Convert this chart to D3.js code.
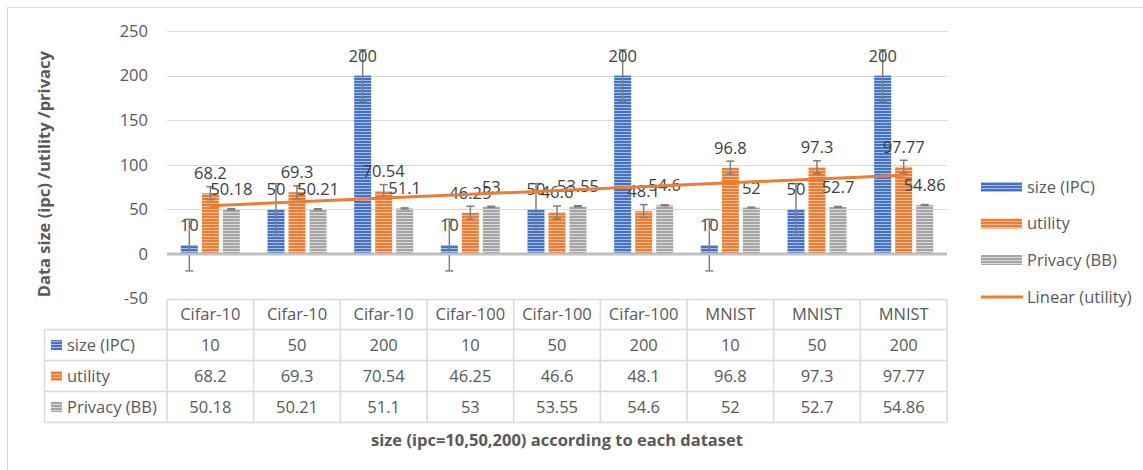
<!DOCTYPE html>
<html>
<head>
<meta charset="utf-8">
<script src="https://cdn.jsdelivr.net/npm/d3@7"></script>
<style>
  html, body { margin: 0; padding: 0; background: #ffffff; }
  svg { display: block; font-family: "Open Sans", "Noto Sans", sans-serif; }
</style>
</head>
<body>
<svg id="chart" width="1143" height="470"></svg>
<script>
// ---------- data ----------
const categories = ["Cifar-10", "Cifar-10", "Cifar-10", "Cifar-100", "Cifar-100", "Cifar-100", "MNIST", "MNIST", "MNIST"];
const sizeIPC   = [10, 50, 200, 10, 50, 200, 10, 50, 200];
const utility   = [68.2, 69.3, 70.54, 46.25, 46.6, 48.1, 96.8, 97.3, 97.77];
const privacyBB = [50.18, 50.21, 51.1, 53, 53.55, 54.6, 52, 52.7, 54.86];
const seriesNames = ["size (IPC)", "utility", "Privacy (BB)"];
const errorAmounts = [28.9, 7.28, 0.57];   // standard-error bars
const yTicks = [-50, 0, 50, 100, 150, 200, 250];
const yTickLabels = ["-50", "0", "50", "100", "150", "200", "250"];
const yTitle = "Data size (ipc) /utility /privacy";
const xTitle = "size (ipc=10,50,200) according to each dataset";
const trendName = "Linear (utility)";

// ---------- setup ----------
const seriesValues = [sizeIPC, utility, privacyBB];
const colors = [
  { base: "#4472C4", light: "#A9BEE6" },
  { base: "#ED7D31", light: "#F6BE98" },
  { base: "#A5A5A5", light: "#D9D9D9" }
];
const svg = d3.select("#chart");
const plot = { left: 167, right: 947, top: 31, bottom: 298.6 };
const FS = 16.5;

const x0 = d3.scaleBand().domain(d3.range(categories.length)).range([plot.left, plot.right]).padding(0);
const y = d3.scaleLinear().domain([-50, 250]).range([plot.bottom, plot.top]);
const x1 = d3.scaleBand().domain(d3.range(seriesNames.length)).range([-29.5, 29.5]).paddingInner(4 / 21).paddingOuter(0);

// patterns
const defs = svg.append("defs");
colors.forEach((c, i) => {
  const p = defs.append("pattern").attr("id", "pat" + i)
    .attr("patternUnits", "userSpaceOnUse").attr("width", 6).attr("height", 3);
  p.append("rect").attr("width", 6).attr("height", 3).attr("fill", c.base);
  p.append("rect").attr("y", 2).attr("width", 6).attr("height", 1).attr("fill", c.light);
});

// outer border
svg.append("rect").attr("x", 7.5).attr("y", 7.5).attr("width", 1160).attr("height", 480)
  .attr("fill", "none").attr("stroke", "#D9D9D9").attr("stroke-width", 1);

// gridlines
const yAxisG = svg.append("g").attr("class", "y-grid");
yAxisG.selectAll("line").data(yTicks.filter(t => t > 0)).join("line")
  .attr("x1", plot.left).attr("x2", plot.right)
  .attr("y1", d => Math.round(y(d)) + 0.5).attr("y2", d => Math.round(y(d)) + 0.5)
  .attr("stroke", "#D9D9D9").attr("stroke-width", 1);

// y tick labels via d3 axis
const yAxis = d3.axisLeft(y).tickValues(yTicks).tickSize(0).tickPadding(0)
  .tickFormat((d, i) => yTickLabels[i]);
const ya = svg.append("g").attr("transform", `translate(148,0)`).call(yAxis);
ya.select(".domain").remove();
ya.selectAll("text").attr("font-size", FS).attr("fill", "#595959").attr("font-family", "'Open Sans', sans-serif");

// bars
const groups = svg.append("g").selectAll("g").data(d3.range(categories.length)).join("g")
  .attr("transform", i => `translate(${x0(i) + x0.bandwidth() / 2},0)`);

groups.selectAll("rect.bar").data(i => seriesValues.map((s, k) => ({ k, v: s[i] }))).join("rect")
  .attr("class", "bar")
  .attr("x", d => x1(d.k))
  .attr("width", x1.bandwidth())
  .attr("y", d => y(Math.max(0, d.v)))
  .attr("height", d => Math.abs(y(d.v) - y(0)))
  .attr("fill", d => `url(#pat${d.k})`);

// zero axis line
svg.append("line").attr("x1", plot.left).attr("x2", plot.right)
  .attr("y1", y(0)).attr("y2", y(0)).attr("stroke", "#BFBFBF").attr("stroke-width", 3);

// error bars
const eb = groups.selectAll("g.err").data(i => seriesValues.map((s, k) => ({ k, v: s[i] }))).join("g").attr("class", "err")
  .attr("transform", d => `translate(${x1(d.k) + x1.bandwidth() / 2},0)`);
eb.append("line").attr("x1", 0).attr("x2", 0)
  .attr("y1", d => y(d.v - errorAmounts[d.k])).attr("y2", d => y(d.v + errorAmounts[d.k]))
  .attr("stroke", "#7F7F7F").attr("stroke-width", 1.5);
eb.selectAll("line.cap").data(d => [d.v - errorAmounts[d.k], d.v + errorAmounts[d.k]]).join("line").attr("class", "cap")
  .attr("x1", -4).attr("x2", 4).attr("y1", v => y(v)).attr("y2", v => y(v))
  .attr("stroke", "#7F7F7F").attr("stroke-width", 1.5);

// linear trendline of utility (least squares, x = 1..n)
const n = utility.length;
const xs = d3.range(1, n + 1);
const mx = d3.mean(xs), my = d3.mean(utility);
const slope = d3.sum(xs, (xv, i) => (xv - mx) * (utility[i] - my)) / d3.sum(xs, xv => (xv - mx) * (xv - mx));
const icpt = my - slope * mx;
const trendPts = [0, n - 1].map(i => [x0(i) + x0.bandwidth() / 2, y(icpt + slope * (i + 1))]);
svg.append("path").attr("d", d3.line()(trendPts))
  .attr("stroke", "#ED7D31").attr("stroke-width", 3).attr("fill", "none");

// data labels
groups.selectAll("text.lbl").data(i => seriesValues.map((s, k) => ({ k, v: s[i] }))).join("text").attr("class", "lbl")
  .attr("x", d => x1(d.k) + x1.bandwidth() / 2)
  .attr("y", d => y(d.v) - 14)
  .attr("text-anchor", "middle").attr("font-size", FS).attr("fill", "#404040")
  .text(d => String(d.v));

// legend
const legend = svg.append("g").attr("transform", "translate(981,0)");
const legY = [187, 223.5, 260];
seriesNames.forEach((name, k) => {
  legend.append("rect").attr("x", 0).attr("y", legY[k] - 5).attr("width", 41).attr("height", 10)
    .attr("fill", `url(#pat${k})`);
  legend.append("text").attr("x", 46).attr("y", legY[k]).attr("dy", "0.35em")
    .attr("font-size", FS).attr("fill", "#595959").text(name);
});
legend.append("line").attr("x1", 0).attr("x2", 42).attr("y1", 297).attr("y2", 297)
  .attr("stroke", "#ED7D31").attr("stroke-width", 3);
legend.append("text").attr("x", 46).attr("y", 297).attr("dy", "0.35em")
  .attr("font-size", FS).attr("fill", "#595959").text(trendName);

// data table
const tbl = svg.append("g");
const rowY = [299.5, 329.5, 360.5, 391.5, 422.5];
const labelLeft = 44.5;
const gridC = "#D9D9D9";
tbl.append("line").attr("x1", plot.left).attr("x2", plot.right).attr("y1", rowY[0]).attr("y2", rowY[0])
  .attr("stroke", gridC).attr("stroke-width", 1.5);
rowY.slice(1).forEach(yy => tbl.append("line").attr("x1", labelLeft).attr("x2", plot.right)
  .attr("y1", yy).attr("y2", yy).attr("stroke", gridC).attr("stroke-width", 1.5));
d3.range(categories.length + 1).forEach(i => {
  const xx = i < categories.length ? x0(i) : plot.right;
  tbl.append("line").attr("x1", xx).attr("x2", xx).attr("y1", rowY[0]).attr("y2", rowY[4])
    .attr("stroke", gridC).attr("stroke-width", 1.5);
});
tbl.append("line").attr("x1", labelLeft).attr("x2", labelLeft).attr("y1", rowY[1]).attr("y2", rowY[4])
  .attr("stroke", gridC).attr("stroke-width", 1.5);
categories.forEach((c, i) => {
  tbl.append("text").attr("x", x0(i) + x0.bandwidth() / 2).attr("y", (rowY[0] + rowY[1]) / 2).attr("dy", "0.35em")
    .attr("text-anchor", "middle").attr("font-size", FS).attr("fill", "#595959").text(c);
});
seriesNames.forEach((name, k) => {
  const cy = (rowY[k + 1] + rowY[k + 2]) / 2;
  tbl.append("rect").attr("x", 51).attr("y", cy - 5).attr("width", 11).attr("height", 10).attr("fill", `url(#pat${k})`);
  tbl.append("text").attr("x", 67).attr("y", cy).attr("dy", "0.35em")
    .attr("font-size", FS).attr("fill", "#595959").text(name);
  seriesValues[k].forEach((v, i) => {
    tbl.append("text").attr("x", x0(i) + x0.bandwidth() / 2).attr("y", cy).attr("dy", "0.35em")
      .attr("text-anchor", "middle").attr("font-size", FS).attr("fill", "#595959").text(String(v));
  });
});

// axis titles
svg.append("text").attr("x", (plot.left + plot.right) / 2).attr("y", 440).attr("dy", "0.35em")
  .attr("text-anchor", "middle").attr("font-size", FS).attr("font-weight", "bold").attr("fill", "#595959").text(xTitle);
svg.append("text").attr("transform", `translate(44,${(51.7 + 296.7) / 2}) rotate(-90)`).attr("dy", "0.35em")
  .attr("text-anchor", "middle").attr("font-size", FS).attr("font-weight", "bold").attr("fill", "#595959").text(yTitle);
</script>
</body>
</html>
